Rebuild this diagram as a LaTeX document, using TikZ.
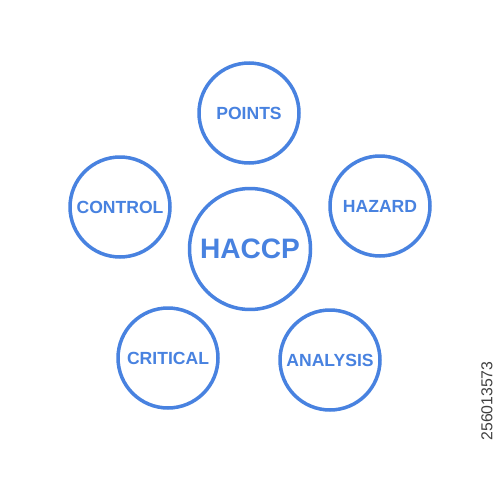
\documentclass[tikz,border=0pt]{standalone}
\usepackage{fontspec}
\setmainfont{Liberation Sans}
\usetikzlibrary{positioning}

\definecolor{chalkblue}{RGB}{72,130,224}

\begin{document}
\begin{tikzpicture}[x=0.02cm, y=-0.02cm]
        \tikzstyle{word}=[circle, draw=chalkblue, line width=2pt, text=chalkblue, font=\bfseries\fontsize{10}{12}\selectfont, minimum size=2cm, inner sep=0pt];
        \tikzstyle{hub}=[word, minimum size=2.42cm, font=\bfseries\fontsize{16}{19}\selectfont];

        \useasboundingbox[fill=white] (0, 0) rectangle (500, 500);

        \node[hub] (haccp) at (250, 249) {HACCP};

        \node[word] (points) at (249, 113) {POINTS};
        \node[word] (control) at (120, 207) {CONTROL};
        \node[word] (hazard) at (380, 206) {HAZARD};
        \node[word] (critical) at (168, 358) {CRITICAL};
        \node[word] (analysis) at (330, 360) {ANALYSIS};

        \node[rotate=90, text=black!75, font=\fontsize{9}{10}\selectfont] (stockid) at (487, 401) {256013573};

    \end{tikzpicture}
\end{document}
